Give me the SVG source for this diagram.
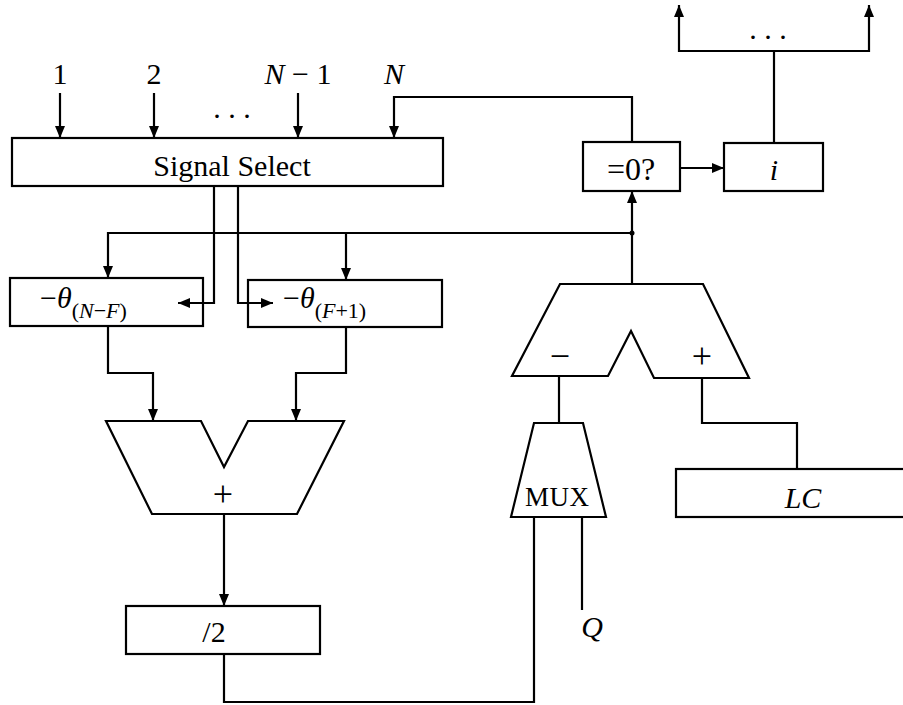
<svg xmlns="http://www.w3.org/2000/svg" width="903" height="705" viewBox="0 0 903 705">
<defs>
<marker id="ah" markerWidth="12" markerHeight="10" refX="12" refY="5" orient="auto" markerUnits="userSpaceOnUse">
<path d="M0,0 L12,5 L0,10 z" fill="#000"/>
</marker>
<style>
.box{fill:#fff;stroke:#000;stroke-width:2.2}
.w{fill:none;stroke:#000;stroke-width:2.2}
.a{marker-end:url(#ah)}
text{font-family:"Liberation Serif","DejaVu Serif",serif;font-size:30px;fill:#000}
.c{text-anchor:middle}
.it{font-style:italic}
.sub{font-size:22px}
.op{font-size:36px}
</style>
</defs>
<rect width="903" height="705" fill="#fff"/>

<g id="inputs">
<text class="c" x="60" y="84">1</text>
<text class="c" x="154" y="84">2</text>
<text class="c" x="298" y="84"><tspan class="it">N</tspan> − 1</text>
<text class="c it" x="394" y="84">N</text>
<text class="c" x="232" y="118">. . .</text>
</g>

<g id="signal-select">
<rect class="box" x="12" y="138" width="431" height="48"/>
<text class="c" x="232" y="176">Signal Select</text>
</g>

<g id="eq0">
<rect class="box" x="583" y="142" width="97" height="49"/>
<text class="c" x="631" y="180" style="font-size:32px">=0?</text>
</g>

<g id="i-box">
<rect class="box" x="724" y="143" width="99" height="48"/>
<text class="c it" x="774" y="180">i</text>
<text class="c" x="768" y="39">. . .</text>
</g>

<g id="theta-nf">
<rect class="box" x="10" y="278" width="193" height="48"/>
<text x="40" y="308">−<tspan class="it">θ</tspan><tspan class="sub" dy="10">(<tspan class="it">N</tspan>−<tspan class="it">F</tspan>)</tspan></text>
</g>

<g id="theta-f1">
<rect class="box" x="248" y="280" width="194" height="47"/>
<text x="283" y="308">−<tspan class="it">θ</tspan><tspan class="sub" dy="10">(<tspan class="it">F</tspan>+1)</tspan></text>
</g>

<g id="adder">
<path class="box" d="M106,421 H201 L224,467 L248,421 H344 L297,514 H152 Z"/>
<text class="c op" x="223" y="506">+</text>
</g>

<g id="half">
<rect class="box" x="126" y="606" width="194" height="48"/>
<text class="c" x="214" y="642">/2</text>
</g>

<g id="subtractor">
<path class="box" d="M560,284 H703 L749,378 H654 L631,331 L608,376 H512 Z"/>
<text class="c op" x="560" y="368">−</text>
<text class="c op" x="702" y="368">+</text>
</g>

<g id="mux">
<path class="box" d="M534,423 H583 L606,517 H511 Z"/>
<text class="c" x="557" y="506" textLength="64" style="font-size:27px">MUX</text>
</g>

<g id="q">
<text class="c it" x="592" y="637">Q</text>
</g>

<g id="lc">
<rect class="box" x="676" y="469" width="240" height="48"/>
<text class="c it" x="803" y="508">LC</text>
</g>

<g id="connectors">
<path class="w a" d="M60,93 V138"/>
<path class="w a" d="M154,93 V138"/>
<path class="w a" d="M298,93 V138"/>
<path class="w a" d="M632,142 V97 H394 V138"/>
<path class="w a" d="M214,186 V303 H178"/>
<path class="w a" d="M238,186 V303 H273"/>
<path class="w a" d="M632,233 H108 V278"/>
<path class="w a" d="M346,233 V280"/>
<circle cx="632" cy="233" r="2.5" fill="#000"/>
<path class="w a" d="M632,284 V191"/>
<path class="w a" d="M680,168 H724"/>
<path class="w" d="M774,143 V51"/>
<path class="w a" d="M774,51 H679 V5"/>
<path class="w a" d="M774,51 H869 V5"/>
<path class="w a" d="M108,326 V373 H153 V421"/>
<path class="w a" d="M346,327 V373 H296 V421"/>
<path class="w a" d="M224,514 V606"/>
<path class="w" d="M224,654 V702 H534 V517"/>
<path class="w" d="M559,423 V377"/>
<path class="w" d="M582,517 V610"/>
<path class="w" d="M702,378 V423 H797 V469"/>
</g>
</svg>
